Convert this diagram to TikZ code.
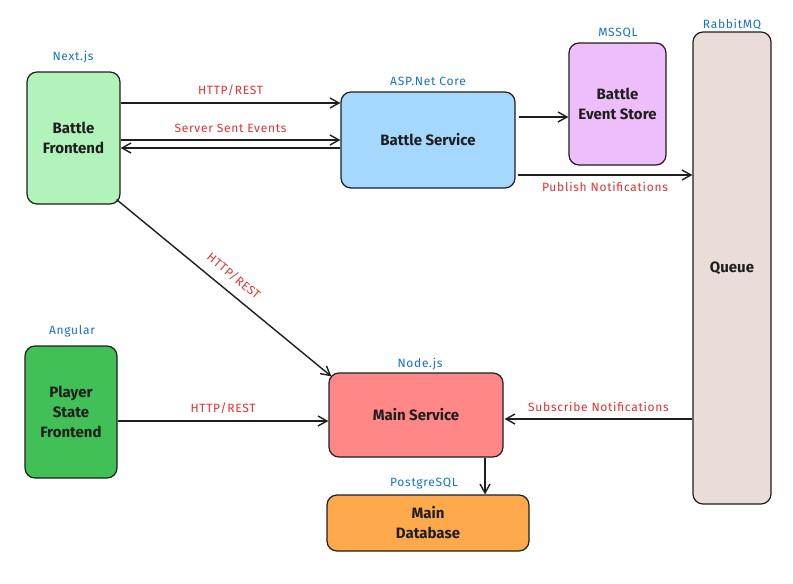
\documentclass[tikz,border=0pt]{standalone}
\usepackage{fontspec}
\setmainfont{Fira Sans}
\newfontfamily\handfont{Fira Sans}[LetterSpace=6]
\usepackage{xcolor}
\usepackage{tikz}
\usetikzlibrary{arrows.meta}
\definecolor{ink}{HTML}{1E1E1E}
\definecolor{techblue}{HTML}{1971C2}
\definecolor{protored}{HTML}{E03131}
\definecolor{frontgreen}{HTML}{B2F2BB}
\definecolor{playergreen}{HTML}{40C057}
\definecolor{serviceblue}{HTML}{A5D8FF}
\definecolor{storeviolet}{HTML}{EEBEFA}
\definecolor{queuebrown}{HTML}{EADDD7}
\definecolor{mainred}{HTML}{FF8787}
\definecolor{dborange}{HTML}{FFA94D}

\begin{document}
\begin{tikzpicture}[x=1pt,y=-1pt]
\tikzstyle{box}=[draw=ink, line width=1.2pt, rounded corners=10pt, align=center, text=ink, inner sep=0pt, font=\fontsize{15}{20}\selectfont\bfseries]
\tikzstyle{tech}=[text=techblue, font=\handfont\fontsize{12}{14}\selectfont]
\tikzstyle{proto}=[text=protored, font=\handfont\fontsize{12}{14}\selectfont]
\tikzstyle{link}=[draw=ink, line width=1.4pt, -{Straight Barb[length=9pt,width=10pt]}]

\useasboundingbox (0,0) rectangle (793,584);

\node[box, fill=frontgreen, minimum width=93pt, minimum height=132pt] (bf) at (73.5,138) {Battle\\Frontend};
\node[box, fill=serviceblue, minimum width=174pt, minimum height=96pt] (bs) at (428,140) {Battle Service};
\node[box, fill=storeviolet, minimum width=97pt, minimum height=122pt] (store) at (617.5,104) {Battle\\Event Store};
\node[box, fill=queuebrown, minimum width=78pt, minimum height=472pt] (queue) at (732,268) {Queue};
\node[box, fill=mainred, minimum width=174pt, minimum height=84pt] (main) at (416,415) {Main Service};
\node[box, fill=dborange, minimum width=202pt, minimum height=56pt] (db) at (428,523) {Main\\Database};
\node[box, fill=playergreen, minimum width=92pt, minimum height=132pt] (psf) at (71,412) {Player\\State\\Frontend};

\node[tech] (bftech) at (73,57) {Next.js};
\node[tech] (bstech) at (428,81) {ASP.Net Core};
\node[tech] (storetech) at (618,33) {MSSQL};
\node[tech] (queuetech) at (732,24) {RabbitMQ};
\node[tech] (maintech) at (420,364) {Node.js};
\node[tech] (dbtech) at (424,484) {PostgreSQL};
\node[tech] (psftech) at (72,331) {Angular};

\draw[link] ([yshift=35pt]bf.east) -- ([yshift=35pt]bf.east -| bs.west) node[proto, midway, above=3pt] {HTTP/REST};
\draw[link] ([yshift=-2pt]bf.east) -- ([yshift=-2pt]bf.east -| bs.west) node[proto, midway, above=3pt] {Server Sent Events};
\draw[link] ([yshift=-10pt]bf.east -| bs.west) -- ([yshift=-10pt]bf.east);
\draw[link] ([yshift=23pt,xshift=3pt]bs.east) -- ([yshift=23pt]bs.east -| store.west);
\draw[link] ([yshift=-35pt,xshift=2pt]bs.east) -- ([yshift=-35pt]bs.east -| queue.west) node[proto, midway, below=3pt] {Publish Notifications};
\draw[link] ([xshift=-4pt,yshift=5pt]bf.south east) -- ([xshift=3pt,yshift=-4pt]main.north west) node[proto, midway, sloped, above=6pt] {HTTP/REST};
\draw[link] ([yshift=-9pt]psf.east) -- ([yshift=-9pt]psf.east -| main.west) node[proto, midway, above=3pt] {HTTP/REST};
\draw[link] ([yshift=-4pt]main.east -| queue.west) -- ([yshift=-4pt,xshift=1pt]main.east) node[proto, midway, above=3pt] {Subscribe Notifications};
\draw[link] ([xshift=69pt]main.south) -- ([xshift=69pt]main.south |- db.north);

\end{tikzpicture}
\end{document}
